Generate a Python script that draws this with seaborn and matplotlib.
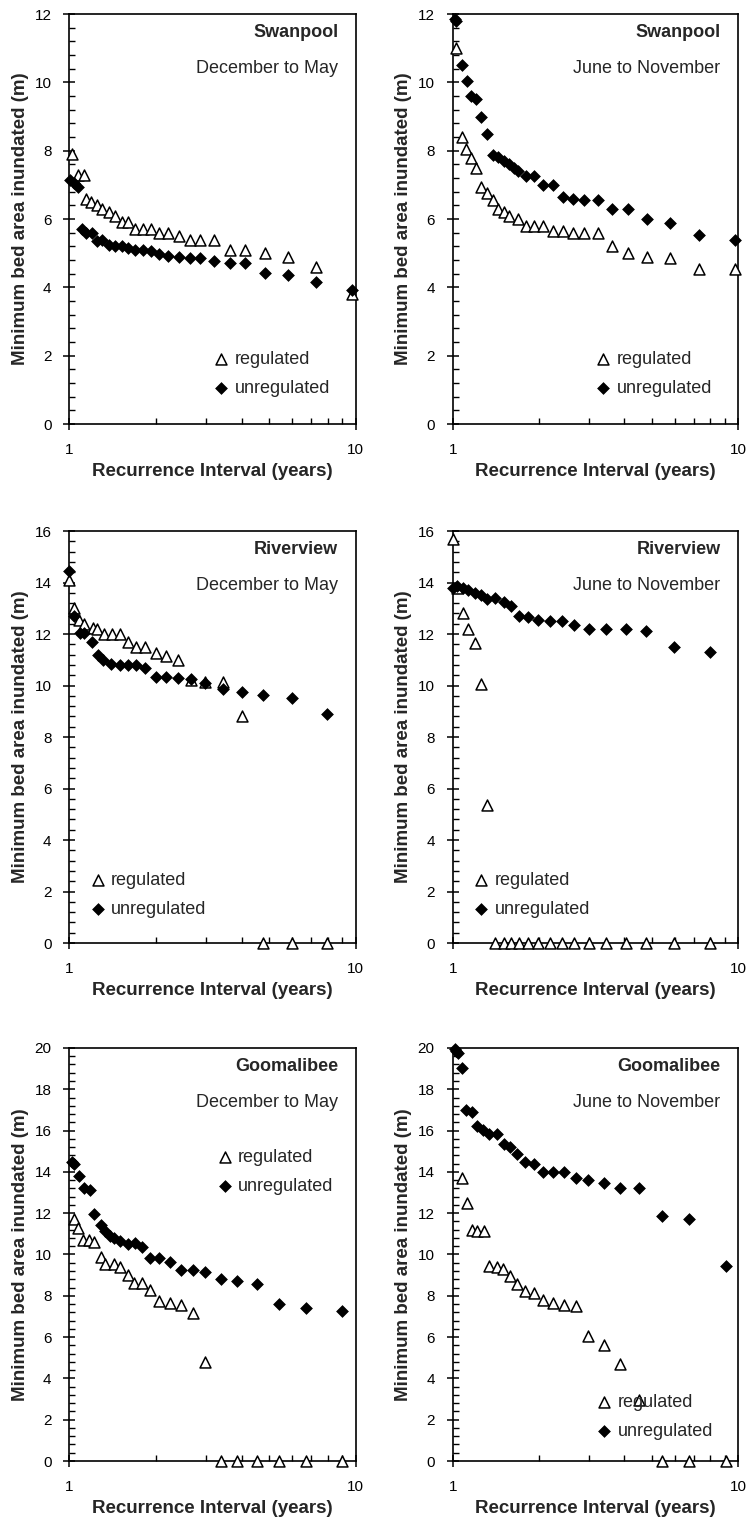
"""
Minimum bed area inundated vs recurrence interval, regulated and unregulated
flows, for three sites and two seasons (3 x 2 panels).
"""

import matplotlib
matplotlib.use("Agg")
import matplotlib.pyplot as plt
import seaborn as sns
from matplotlib.ticker import FixedLocator, FixedFormatter, LogLocator, MultipleLocator, NullFormatter

# Swanpool, December to May
swan_dm_reg_x = [1.02, 1.07, 1.12, 1.14, 1.19, 1.25, 1.30, 1.38, 1.44, 1.52, 1.60, 1.69, 1.81,
                 1.92, 2.06, 2.21, 2.42, 2.64, 2.87, 3.20, 3.64, 4.11, 4.83, 5.80, 7.30, 9.74]
swan_dm_reg_y = [7.9, 7.3, 7.3, 6.6, 6.5, 6.4, 6.3, 6.2, 6.1, 5.9, 5.9, 5.7, 5.7,
                 5.7, 5.6, 5.6, 5.5, 5.4, 5.4, 5.4, 5.1, 5.1, 5.0, 4.9, 4.6, 3.8]
swan_dm_unreg_x = [1.005, 1.04, 1.07, 1.11, 1.14, 1.20, 1.25, 1.30, 1.37, 1.44, 1.52, 1.60, 1.69, 1.81,
                   1.92, 2.06, 2.21, 2.42, 2.64, 2.87, 3.20, 3.64, 4.11, 4.83, 5.80, 7.30, 9.74]
swan_dm_unreg_y = [7.15, 7.05, 6.95, 5.7, 5.6, 5.6, 5.35, 5.4, 5.25, 5.2, 5.2, 5.15, 5.1, 5.1,
                   5.05, 4.98, 4.92, 4.88, 4.85, 4.85, 4.78, 4.72, 4.72, 4.42, 4.36, 4.17, 3.93]

# Swanpool, June to November
swan_jn_reg_x = [1.03, 1.075, 1.11, 1.156, 1.207, 1.253, 1.315, 1.388, 1.445, 1.512, 1.58, 1.70, 1.81,
                 1.93, 2.08, 2.24, 2.44, 2.64, 2.88, 3.23, 3.63, 4.12, 4.81, 5.79, 7.30, 9.74]
swan_jn_reg_y = [11.0, 8.4, 8.05, 7.8, 7.5, 6.95, 6.75, 6.55, 6.3, 6.2, 6.1, 6.0, 5.8,
                 5.8, 5.8, 5.65, 5.65, 5.6, 5.6, 5.6, 5.2, 5.0, 4.9, 4.85, 4.55, 4.55]
swan_jn_unreg_x = [1.02, 1.03, 1.075, 1.126, 1.156, 1.207, 1.253, 1.315, 1.388, 1.445, 1.512, 1.58, 1.64, 1.70,
                   1.81, 1.93, 2.08, 2.24, 2.44, 2.64, 2.88, 3.23, 3.63, 4.12, 4.81, 5.79, 7.30, 9.74]
swan_jn_unreg_y = [11.85, 11.8, 10.5, 10.05, 9.6, 9.5, 9.0, 8.5, 7.87, 7.82, 7.7, 7.6, 7.5, 7.4,
                   7.25, 7.25, 7.0, 7.0, 6.65, 6.6, 6.55, 6.55, 6.3, 6.3, 6.0, 5.87, 5.52, 5.38]

# Riverview, December to May
river_dm_reg_x = [1.0, 1.035, 1.078, 1.128, 1.209, 1.249, 1.325, 1.409, 1.506, 1.597, 1.713,
                  1.84, 2.0, 2.18, 2.40, 2.66, 2.98, 3.44, 4.0, 4.76, 5.98, 7.92]
river_dm_reg_y = [14.1, 13.0, 12.55, 12.4, 12.25, 12.2, 12.0, 12.0, 12.0, 11.7, 11.5,
                  11.5, 11.25, 11.15, 11.0, 10.2, 10.15, 10.15, 8.8, 0, 0, 0]
river_dm_unreg_x = [1.0, 1.035, 1.086, 1.128, 1.20, 1.255, 1.31, 1.397, 1.506, 1.597, 1.713,
                    1.84, 2.0, 2.18, 2.40, 2.66, 2.98, 3.44, 4.0, 4.76, 5.98, 7.92]
river_dm_unreg_y = [14.45, 12.7, 12.05, 12.05, 11.7, 11.2, 11.0, 10.85, 10.8, 10.8, 10.8,
                    10.7, 10.35, 10.35, 10.3, 10.25, 10.1, 9.85, 9.75, 9.65, 9.5, 8.9]

# Riverview, June to November
river_jn_x = [1.0, 1.038, 1.084, 1.135, 1.197, 1.253, 1.322, 1.406, 1.513, 1.596, 1.712,
              1.84, 1.995, 2.19, 2.42, 2.66, 3.0, 3.44, 4.04, 4.77, 5.99, 7.99]
river_jn_reg_y = [15.7, 13.8, 12.8, 12.2, 11.65, 10.05, 5.35, 0, 0, 0, 0,
                  0, 0, 0, 0, 0, 0, 0, 0, 0, 0, 0]
river_jn_unreg_y = [13.8, 13.85, 13.8, 13.7, 13.6, 13.5, 13.35, 13.4, 13.25, 13.1, 12.7,
                    12.65, 12.55, 12.5, 12.5, 12.35, 12.2, 12.2, 12.2, 12.1, 11.5, 11.3]

# Goomalibee, December to May
goom_dm_reg_x = [1.035, 1.069, 1.116, 1.168, 1.216, 1.29, 1.335, 1.427, 1.506, 1.597, 1.686, 1.79,
                 1.918, 2.06, 2.25, 2.45, 2.70, 2.98, 3.38, 3.85, 4.51, 5.40, 6.70, 8.99]
goom_dm_reg_y = [11.7, 11.3, 10.7, 10.7, 10.6, 9.9, 9.55, 9.55, 9.4, 9.0, 8.6, 8.6,
                 8.3, 7.75, 7.65, 7.55, 7.15, 4.8, 0, 0, 0, 0, 0, 0]
goom_dm_unreg_x = [1.02, 1.041, 1.078, 1.122, 1.177, 1.216, 1.29, 1.335, 1.39, 1.435, 1.506, 1.597, 1.70,
                   1.79, 1.918, 2.06, 2.25, 2.45, 2.70, 2.98, 3.38, 3.85, 4.51, 5.40, 6.70, 8.99]
goom_dm_unreg_y = [14.5, 14.4, 13.8, 13.2, 13.1, 11.95, 11.45, 11.15, 10.9, 10.8, 10.65, 10.5, 10.55,
                   10.35, 9.85, 9.85, 9.65, 9.25, 9.25, 9.15, 8.8, 8.7, 8.55, 7.6, 7.4, 7.25]

# Goomalibee, June to November
goom_jn_reg_x = [1.075, 1.12, 1.166, 1.213, 1.287, 1.344, 1.425, 1.505, 1.587, 1.684, 1.79, 1.926,
                 2.066, 2.24, 2.45, 2.70, 2.98, 3.38, 3.85, 4.50, 5.42, 6.71, 9.06]
goom_jn_reg_y = [13.7, 12.5, 11.2, 11.15, 11.15, 9.45, 9.4, 9.3, 8.95, 8.55, 8.25, 8.15,
                 7.8, 7.65, 7.55, 7.5, 6.05, 5.6, 4.7, 2.95, 0, 0, 0]
goom_jn_unreg_x = [1.02, 1.03, 1.045, 1.075, 1.113, 1.166, 1.22, 1.28, 1.344, 1.425, 1.513, 1.587, 1.684,
                   1.79, 1.926, 2.066, 2.24, 2.45, 2.70, 2.98, 3.38, 3.85, 4.50, 5.42, 6.71, 9.06]
goom_jn_unreg_y = [19.95, 19.85, 19.75, 19.05, 17.0, 16.9, 16.2, 16.05, 15.85, 15.85, 15.35, 15.2, 14.85,
                   14.5, 14.4, 14.0, 14.0, 14.0, 13.7, 13.6, 13.45, 13.2, 13.2, 11.85, 11.7, 9.45]

sites = ["Swanpool", "Riverview", "Goomalibee"]
seasons = ["December to May", "June to November"]
y_max = [12, 16, 20]
x_label = "Recurrence Interval (years)"
y_label = "Minimum bed area inundated (m)"

sns.set_style("white")
plt.rcParams["font.family"] = ["Liberation Sans", "DejaVu Sans"]

FONT = 13


def draw_panel(ax, reg_x, reg_y, unreg_x, unreg_y, site, season, ymax, legend_anchor):
    sns.scatterplot(x=reg_x, y=reg_y, ax=ax, marker="^", s=62, color="white",
                    edgecolor="black", linewidth=1.1, clip_on=False, zorder=3, label="regulated")
    sns.scatterplot(x=unreg_x, y=unreg_y, ax=ax, marker="D", s=36, color="black",
                    edgecolor="black", linewidth=0.5, clip_on=False, zorder=4, label="unregulated")

    ax.set_xscale("log")
    ax.set_xlim(1, 10)
    ax.set_ylim(0, ymax)
    ax.xaxis.set_major_locator(FixedLocator([1, 10]))
    ax.xaxis.set_major_formatter(FixedFormatter(["1", "10"]))
    ax.xaxis.set_minor_locator(LogLocator(base=10, subs=range(2, 10)))
    ax.xaxis.set_minor_formatter(NullFormatter())
    ax.yaxis.set_major_locator(MultipleLocator(2))
    ax.yaxis.set_minor_locator(MultipleLocator(0.4))

    ax.tick_params(which="major", direction="inout", length=8, width=1.1,
                   labelsize=11, color="black", labelcolor="black")
    ax.tick_params(axis="x", which="major", pad=10)
    ax.tick_params(axis="y", which="major", pad=9)
    ax.tick_params(which="minor", direction="in", length=4, width=1.0, color="black")
    ax.tick_params(bottom=True, left=True, top=False, right=False, which="both")

    for spine in ax.spines.values():
        spine.set_visible(True)
        spine.set_color("black")
        spine.set_linewidth(1.2)

    ax.set_xlabel(x_label, fontsize=13.5, fontweight="bold")
    ax.set_ylabel(y_label, fontsize=13.5, fontweight="bold")
    ax.xaxis.set_label_coords(0.5, -0.095)
    ax.yaxis.set_label_coords(-0.142, 0.5)

    ax.text(0.94, 0.956, site, transform=ax.transAxes, ha="right", va="center",
            fontsize=FONT, fontweight="bold")
    ax.text(0.937, 0.868, season, transform=ax.transAxes, ha="right", va="center",
            fontsize=FONT)

    ax.legend(loc="upper left", bbox_to_anchor=legend_anchor, frameon=False, fontsize=FONT,
              handlelength=0.8, handletextpad=0.35, labelspacing=0.65, borderpad=0,
              borderaxespad=0)


fig = plt.figure(figsize=(7.48, 15.23), dpi=100)

lefts = [0.0929, 0.6052]
widths = [0.3824, 0.3814]
bottoms = [0.7216, 0.3808, 0.0407]
heights = [0.2692, 0.2705, 0.2712]

panels = [
    (swan_dm_reg_x, swan_dm_reg_y, swan_dm_unreg_x, swan_dm_unreg_y, (0.505, 0.178)),
    (swan_jn_reg_x, swan_jn_reg_y, swan_jn_unreg_x, swan_jn_unreg_y, (0.503, 0.178)),
    (river_dm_reg_x, river_dm_reg_y, river_dm_unreg_x, river_dm_unreg_y, (0.073, 0.173)),
    (river_jn_x, river_jn_reg_y, river_jn_x, river_jn_unreg_y, (0.074, 0.173)),
    (goom_dm_reg_x, goom_dm_reg_y, goom_dm_unreg_x, goom_dm_unreg_y, (0.517, 0.755)),
    (goom_jn_reg_x, goom_jn_reg_y, goom_jn_unreg_x, goom_jn_unreg_y, (0.506, 0.162)),
]

for i, (rx, ry, ux, uy, anchor) in enumerate(panels):
    row, col = divmod(i, 2)
    ax = fig.add_axes([lefts[col], bottoms[row], widths[col], heights[row]])
    draw_panel(ax, rx, ry, ux, uy, sites[row], seasons[col], y_max[row], anchor)

fig.savefig("out.png", dpi=100, facecolor="white")
